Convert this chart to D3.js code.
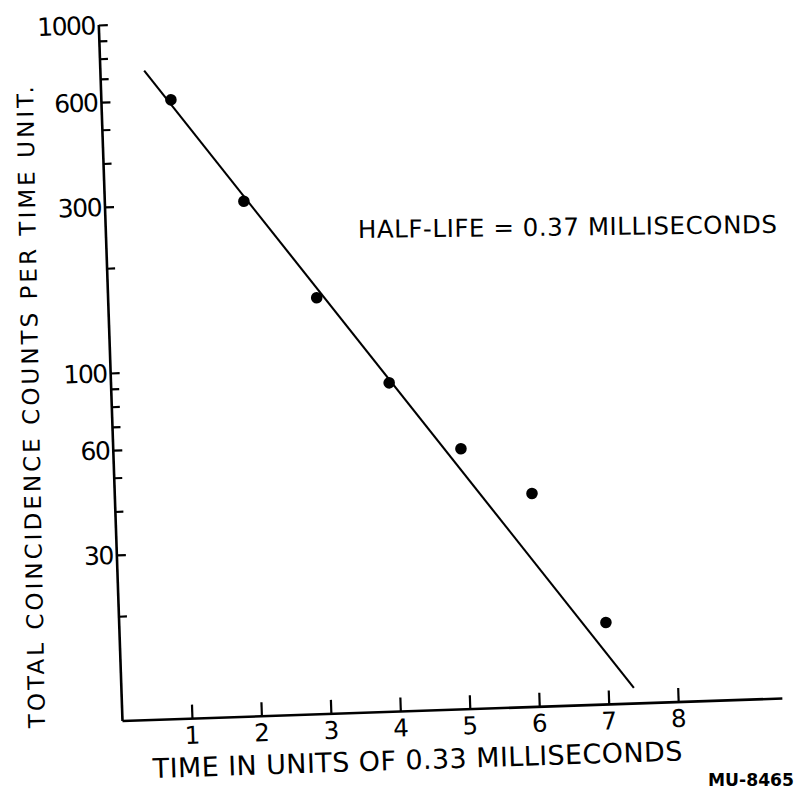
<!DOCTYPE html>
<html><head><meta charset="utf-8">
<script src="https://cdn.jsdelivr.net/npm/d3@7"></script>
<style>body{margin:0;background:#fff}svg{display:block}</style>
</head><body>
<svg id="c" width="799" height="790"></svg>
<script>
// ---- data ----
const timeUnits = [1, 2, 3, 4, 5, 6, 7];
const counts = [600, 302, 157, 88, 56, 41, 17.2];
const fitTime = [0.63, 7.37];
const fitCounts = [732, 11.1];
const xTickValues = [1, 2, 3, 4, 5, 6, 7, 8];
const yMajorTicks = [1000, 600, 300, 100, 60, 30];
const yMinorTicks = [900, 800, 700, 500, 400, 200, 90, 80, 70, 50, 40, 20];
const yTitle = "TOTAL COINCIDENCE COUNTS PER TIME UNIT.";
const xTitle = "TIME IN UNITS OF 0.33 MILLISECONDS";
const note = "HALF-LIFE = 0.37 MILLISECONDS";
const code = "MU-8465";

// ---- layout ----
const svg = d3.select("#c");
const font = "'DejaVu Sans', sans-serif";
const unitPx = 69.5;
const x = d3.scaleLinear().domain([0, 9.5]).range([0, 9.5 * unitPx]);
const y = d3.scaleLog().domain([10, 1000]).range([0, -696.4]);

const g = svg.append("g").attr("transform", "translate(122.5,721) rotate(-1.95)");

// x axis
const xAxis = d3.axisTop(x).tickValues(xTickValues).tickSize(14).tickFormat("");
const xg = g.append("g").call(xAxis);
xg.select(".domain").attr("d", `M0,0H${x(9.5)}`).attr("stroke", "#000").attr("stroke-width", 2.6);
xg.selectAll(".tick line").attr("stroke", "#000").attr("stroke-width", 2.2);
g.append("g").selectAll("text").data(xTickValues).join("text")
  .attr("x", d => x(d)).attr("y", 25)
  .attr("text-anchor", "middle").attr("font-family", font).attr("font-size", 24.5)
  .text(d => d);

// y axis
const yAxisMajor = d3.axisRight(y).tickValues(yMajorTicks).tickSize(9).tickFormat("");
const yg = g.append("g").call(yAxisMajor);
yg.select(".domain").attr("d", `M0,0V${y(1000)}`).attr("stroke", "#000").attr("stroke-width", 2.6);
yg.selectAll(".tick line").attr("stroke", "#000").attr("stroke-width", 2.2);
const yAxisMinor = d3.axisRight(y).tickValues(yMinorTicks).tickSize(8).tickFormat("");
const ym = g.append("g").call(yAxisMinor);
ym.select(".domain").remove();
ym.selectAll(".tick line").attr("stroke", "#000").attr("stroke-width", 2.2);
g.append("g").selectAll("text").data(yMajorTicks).join("text")
  .attr("x", -4).attr("y", d => y(d)).attr("dy", "0.36em")
  .attr("text-anchor", "end").attr("font-family", font).attr("font-size", 25)
  .attr("letter-spacing", -1.5)
  .text(d => d);

// fit line
const line = d3.line().x(d => x(d[0])).y(d => y(d[1]));
g.append("path").datum(d3.zip(fitTime, fitCounts))
  .attr("d", line).attr("fill", "none").attr("stroke", "#000").attr("stroke-width", 2.1);

// points
g.append("g").selectAll("circle").data(d3.zip(timeUnits, counts)).join("circle")
  .attr("cx", d => x(d[0])).attr("cy", d => y(d[1])).attr("r", 5.8).attr("fill", "#000");

// titles (scan-tilted)
svg.append("text").attr("transform", "translate(45,728) rotate(-91.07)")
  .attr("font-family", font).attr("font-size", 23)
  .attr("textLength", 642).attr("lengthAdjust", "spacing").text(yTitle);
svg.append("text").attr("transform", "translate(153,778) rotate(-1.9)")
  .attr("font-family", font).attr("font-size", 27)
  .attr("textLength", 530).attr("lengthAdjust", "spacing").text(xTitle);
svg.append("text").attr("transform", "translate(358,238) rotate(-0.7)")
  .attr("font-family", font).attr("font-size", 24.5)
  .attr("textLength", 419).attr("lengthAdjust", "spacing").text(note);
svg.append("text").attr("transform", "translate(708,786)")
  .attr("font-family", font).attr("font-size", 18).attr("font-weight", "bold")
  .attr("textLength", 86).attr("lengthAdjust", "spacingAndGlyphs").text(code);
</script>
</body></html>
